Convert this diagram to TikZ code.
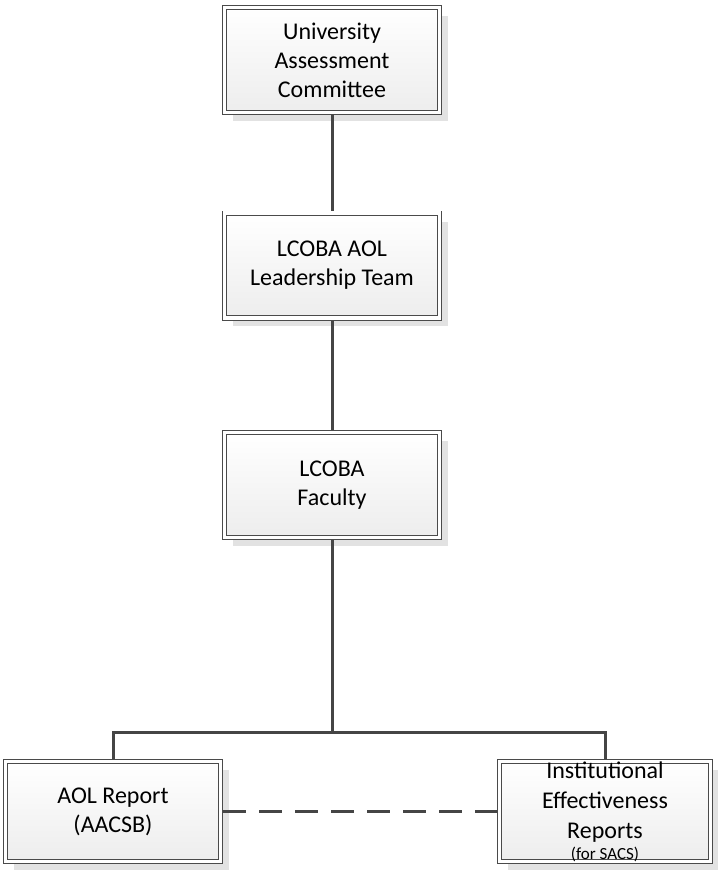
\documentclass[tikz,border=0pt]{standalone}
\usepackage{fontspec}
\setmainfont{Carlito}
\usetikzlibrary{shadows}
\definecolor{linecol}{HTML}{454545}
\definecolor{boxline}{HTML}{4A4A4A}
\definecolor{shadowcol}{HTML}{E2E2E2}
\definecolor{fillbot}{HTML}{EDEDED}
\tikzset{
  orgbox/.style={draw=boxline, line width=0.8pt, double=white, double distance=3.6pt,
    top color=white, bottom color=fillbot, inner sep=0pt, outer sep=2.6pt,
    align=center, font=\fontsize{24}{29}\selectfont,
    drop shadow={shadow xshift=8.5pt, shadow yshift=-8.5pt, fill=shadowcol, opacity=1}},
  conn/.style={draw=linecol, line width=3pt},
  dconn/.style={draw=linecol, line width=3pt, dash pattern=on 23pt off 13pt}
}
\begin{document}
\begin{tikzpicture}[x=1pt, y=-1pt]
\useasboundingbox (0,0) rectangle (717,872);
\node[orgbox, minimum width=214.8pt, minimum height=104.8pt] (uac) at (332,60)
  {University\\Assessment\\Committee};
\node[orgbox, minimum width=214.8pt, minimum height=104.8pt] (lt) at (332,265.5)
  {LCOBA AOL\\Leadership Team};
\node[orgbox, minimum width=214.8pt, minimum height=104.8pt] (fac) at (332,485)
  {LCOBA\\Faculty};
\node[orgbox, minimum width=214.8pt, minimum height=99.8pt] (aol) at (113,811.5)
  {AOL Report\\(AACSB)};
\node[orgbox, minimum width=210.8pt, minimum height=99.8pt, font=\fontsize{24}{30}\selectfont] (ier) at (605,811.5)
  {Institutional\\Effectiveness\\Reports\\[-9pt]{\fontsize{17}{21}\selectfont (for SACS)}};
\coordinate (j) at (332,732);
\draw[conn] (uac.south) -- (lt.north);
\draw[conn] (lt.south) -- (fac.north);
\draw[conn] (fac.south) -- (j);
\draw[conn] (aol.north) |- (j) -| (ier.north);
\draw[dconn] (aol.east) -- (ier.west);
\end{tikzpicture}
\end{document}
